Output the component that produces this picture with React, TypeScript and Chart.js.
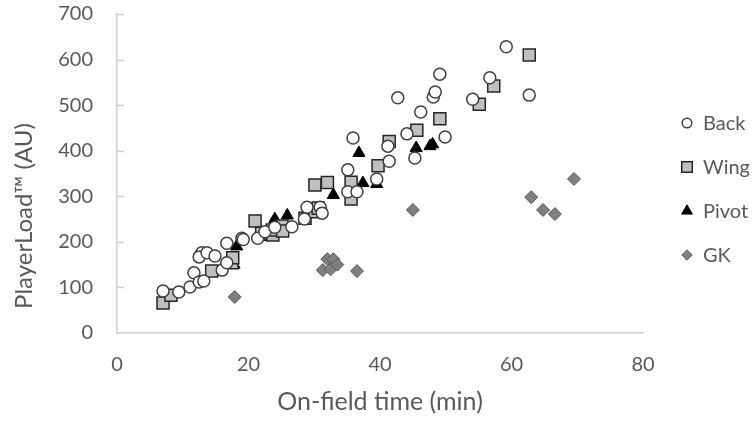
import React, { useEffect, useRef } from "react";
import { Chart, registerables } from "chart.js";
import { drawPoint } from "chart.js/helpers";

Chart.register(...registerables);

// ---- data ----
const backX = [7.0, 9.4, 11.1, 11.7, 12.5, 13.2, 12.9, 12.5, 13.7, 14.9, 16.0, 16.7, 16.7, 19.0, 19.2, 21.4, 22.5, 24.0, 26.6, 28.9, 28.5, 30.9, 31.2, 35.1, 35.1, 35.9, 36.5, 39.5, 41.2, 41.4, 42.7, 44.1, 45.3, 46.2, 48.1, 48.4, 49.1, 49.9, 54.1, 56.7, 59.2, 62.7];
const backY = [92, 90, 101, 132, 112, 114, 176, 167, 176, 169, 138, 154, 197, 208, 205, 208, 222, 232, 233, 276, 250, 276, 263, 358, 310, 428, 310, 338, 410, 377, 516, 437, 384, 485, 518, 529, 568, 430, 513, 560, 628, 522];

const wingX = [7.0, 8.2, 14.4, 17.5, 17.6, 21.0, 22.0, 23.7, 23.6, 25.1, 25.2, 28.6, 30.1, 30.6, 30.1, 32.0, 35.6, 35.6, 39.7, 41.4, 45.6, 49.1, 55.1, 57.3, 62.7];
const wingY = [66, 83, 136, 154, 165, 246, 219, 215, 226, 235, 224, 252, 266, 274, 325, 330, 331, 294, 367, 420, 445, 470, 502, 542, 610];

const pivotX = [17.8, 18.2, 23.0, 24.0, 25.9, 29.0, 32.9, 36.8, 37.4, 39.5, 45.5, 47.6, 48.0];
const pivotY = [150, 190, 211, 250, 258, 268, 303, 395, 329, 327, 406, 410, 414];

const gkX = [17.9, 31.3, 32.0, 32.9, 32.5, 33.5, 36.5, 45.0, 63.0, 64.8, 66.6, 69.5];
const gkY = [79, 138, 162, 162, 140, 150, 136, 270, 298, 270, 261, 338];

const seriesNames = ["Back", "Wing", "Pivot", "GK"];
const xTitle = "On-field time (min)";
const yTitle = "PlayerLoad\u2122 (AU)";
const xMin = 0, xMax = 80, xStep = 20;
const yMin = 0, yMax = 700, yStep = 100;

const FONT = "Lato, 'Open Sans', sans-serif";
const TEXT = "#595959";
const AXIS = "#cfcfcf";

const toPts = (xs: number[], ys: number[]) => xs.map((x, i) => ({ x, y: ys[i] }));

const legendPlugin = {
  id: "customLegend",
  afterDraw(chart: any) {
    const ctx = chart.ctx;
    const x0 = 687;
    const yStart = 123;
    const gap = 44;
    const sizes = [4.8, 7.5, 6.2, 5.2];
    chart.data.datasets.forEach((ds: any, i: number) => {
      const y = yStart + i * gap;
      ctx.save();
      ctx.fillStyle = ds.backgroundColor;
      ctx.strokeStyle = ds.borderColor;
      ctx.lineWidth = ds.borderWidth;
      drawPoint(ctx, { pointStyle: ds.pointStyle, radius: sizes[i], rotation: 0, borderWidth: ds.borderWidth } as any, x0, y);
      ctx.restore();
      ctx.save();
      ctx.fillStyle = TEXT;
      ctx.font = `20px ${FONT}`;
      ctx.textBaseline = "middle";
      ctx.textAlign = "left";
      ctx.fillText(ds.label, 703, y + 1);
      ctx.restore();
    });
  },
};

const yTitlePlugin = {
  id: "yTitle",
  afterDraw(chart: any) {
    const ctx = chart.ctx;
    ctx.save();
    ctx.translate(24, 216);
    ctx.rotate(-Math.PI / 2);
    ctx.fillStyle = TEXT;
    ctx.font = `24px ${FONT}`;
    ctx.textAlign = "center";
    ctx.textBaseline = "middle";
    ctx.fillText(yTitle, 0, 0);
    ctx.restore();
  },
};

const innerTicksPlugin = {
  id: "innerTicks",
  afterDatasetsDraw(chart: any) {
    const ctx = chart.ctx;
    const ys = chart.scales.y;
    const left = chart.chartArea.left;
    ctx.save();
    ctx.strokeStyle = AXIS;
    ctx.lineWidth = 1.5;
    for (let v = yMin + yStep; v <= yMax; v += yStep) {
      const py = Math.round(ys.getPixelForValue(v)) + 0.5;
      ctx.beginPath();
      ctx.moveTo(left, py);
      ctx.lineTo(left + 7, py);
      ctx.stroke();
    }
    ctx.restore();
  },
};

export default function App() {
  const ref = useRef<HTMLCanvasElement>(null);
  useEffect(() => {
    document.body.style.margin = "0";
    const chart = new Chart(ref.current!, {
      type: "scatter",
      data: {
        datasets: [
          {
            label: seriesNames[0],
            data: toPts(backX, backY),
            pointStyle: "circle",
            pointRadius: 6,
            backgroundColor: "#ffffff",
            borderColor: "#404040",
            borderWidth: 1.5,
          },
          {
            label: seriesNames[1],
            data: toPts(wingX, wingY),
            pointStyle: "rect",
            pointRadius: 8.5,
            backgroundColor: "#bfbfbf",
            borderColor: "#262626",
            borderWidth: 1.5,
          },
          {
            label: seriesNames[2],
            data: toPts(pivotX, pivotY),
            pointStyle: "triangle",
            pointRadius: 7,
            backgroundColor: "#000000",
            borderColor: "#000000",
            borderWidth: 1,
          },
          {
            label: seriesNames[3],
            data: toPts(gkX, gkY),
            pointStyle: "rectRot",
            pointRadius: 6.5,
            backgroundColor: "#7f7f7f",
            borderColor: "#595959",
            borderWidth: 1,
          },
        ] as any,
      },
      options: {
        animation: false,
        responsive: false,
        maintainAspectRatio: false,
        layout: { padding: { top: 14, right: 111, left: 0, bottom: 0 } },
        plugins: {
          legend: { display: false },
          tooltip: { enabled: false },
        },
        scales: {
          x: {
            type: "linear",
            min: xMin,
            max: xMax,
            ticks: { stepSize: xStep, color: TEXT, font: { family: FONT, size: 20 }, padding: 20 },
            grid: { drawOnChartArea: false, drawTicks: false },
            border: { display: true, color: AXIS, width: 1.5 },
            title: { display: true, text: xTitle, color: TEXT, font: { family: FONT, size: 25 }, padding: { top: 0, bottom: 4 } },
            afterFit: (s: any) => { s.height = 88; },
          },
          y: {
            type: "linear",
            min: yMin,
            max: yMax,
            ticks: { stepSize: yStep, color: TEXT, font: { family: FONT, size: 20 }, padding: 24 },
            grid: { drawOnChartArea: false, drawTicks: false },
            border: { display: true, color: AXIS, width: 1.5 },
            title: { display: false },
            afterFit: (s: any) => { s.width = 117; s.paddingTop = 0; s.paddingBottom = 0; },
          },
        },
      } as any,
      plugins: [legendPlugin, innerTicksPlugin, yTitlePlugin],
    });
    return () => chart.destroy();
  }, []);
  return (
    <div style={{ width: 754, height: 421 }}>
      <canvas ref={ref} width={754} height={421} style={{ width: 754, height: 421, display: "block" }} />
    </div>
  );
}
